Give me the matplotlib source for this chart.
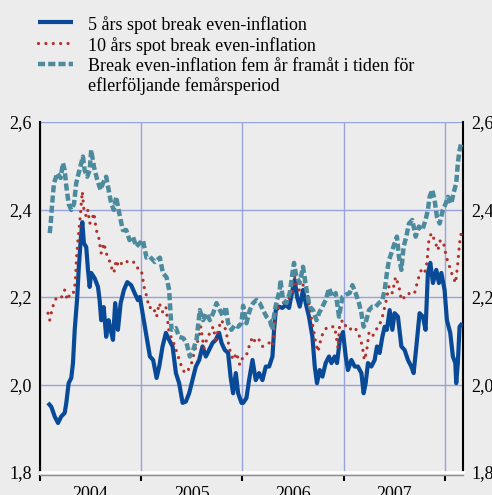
import numpy as np
import matplotlib.pyplot as plt
from matplotlib.lines import Line2D

# ---- data (decimal year, percent) ----
spot5_t = [2004.079, 2004.112, 2004.145, 2004.178, 2004.210, 2004.244, 2004.260, 2004.283, 2004.309, 2004.326,
           2004.343, 2004.368, 2004.382, 2004.402, 2004.418, 2004.434, 2004.457, 2004.474, 2004.491, 2004.506,
           2004.540, 2004.573, 2004.589, 2004.605, 2004.629, 2004.654, 2004.678, 2004.698, 2004.721, 2004.743,
           2004.770, 2004.797, 2004.829, 2004.862, 2004.901, 2004.935, 2004.967, 2004.987, 2005.020, 2005.053,
           2005.086, 2005.118, 2005.152, 2005.178, 2005.211, 2005.244, 2005.276, 2005.310, 2005.343, 2005.375,
           2005.409, 2005.441, 2005.474, 2005.507, 2005.540, 2005.573, 2005.606, 2005.639, 2005.671, 2005.705,
           2005.737, 2005.770, 2005.794, 2005.826, 2005.859, 2005.883, 2005.908, 2005.935, 2005.958, 2005.991,
           2006.007, 2006.040, 2006.066, 2006.100, 2006.132, 2006.165, 2006.198, 2006.231, 2006.264, 2006.297,
           2006.313, 2006.330, 2006.362, 2006.396, 2006.428, 2006.461, 2006.495, 2006.517, 2006.540, 2006.567,
           2006.599, 2006.626, 2006.658, 2006.692, 2006.715, 2006.737, 2006.764, 2006.791, 2006.823, 2006.856,
           2006.880, 2006.912, 2006.935, 2006.962, 2006.994, 2007.021, 2007.043, 2007.077, 2007.110, 2007.142,
           2007.176, 2007.198, 2007.218, 2007.241, 2007.274, 2007.307, 2007.330, 2007.356, 2007.383, 2007.406,
           2007.428, 2007.455, 2007.482, 2007.504, 2007.537, 2007.571, 2007.603, 2007.636, 2007.669, 2007.692,
           2007.719, 2007.751, 2007.784, 2007.810, 2007.833, 2007.857, 2007.883, 2007.916, 2007.942, 2007.966,
           2007.998, 2008.021, 2008.054, 2008.080, 2008.104, 2008.113, 2008.129, 2008.146, 2008.173]
spot5_v = [1.958, 1.949, 1.927, 1.912, 1.927, 1.935, 1.958, 2.003, 2.015, 2.049,
           2.125, 2.200, 2.262, 2.330, 2.371, 2.323, 2.314, 2.262, 2.223, 2.255,
           2.243, 2.223, 2.193, 2.147, 2.177, 2.109, 2.147, 2.125, 2.102, 2.186,
           2.125, 2.186, 2.216, 2.234, 2.227, 2.209, 2.193, 2.200, 2.155, 2.109,
           2.064, 2.056, 2.015, 2.041, 2.087, 2.118, 2.102, 2.087, 2.026, 2.003,
           1.958, 1.961, 1.980, 2.010, 2.041, 2.056, 2.087, 2.064, 2.079, 2.095,
           2.102, 2.118, 2.095, 2.079, 2.072, 2.018, 1.980, 2.026, 1.980, 1.958,
           1.958, 1.969, 2.010, 2.056, 2.010, 2.026, 2.010, 2.041, 2.041, 2.064,
           2.125, 2.170, 2.178, 2.175, 2.182, 2.175, 2.216, 2.239, 2.200, 2.178,
           2.216, 2.186, 2.155, 2.109, 2.041, 2.003, 2.033, 2.018, 2.049, 2.064,
           2.049, 2.064, 2.049, 2.100, 2.120, 2.064, 2.033, 2.056, 2.041, 2.041,
           2.026, 1.980, 2.003, 2.049, 2.041, 2.056, 2.087, 2.072, 2.109, 2.132,
           2.125, 2.170, 2.125, 2.163, 2.155, 2.087, 2.079, 2.056, 2.041, 2.026,
           2.087, 2.163, 2.155, 2.125, 2.255, 2.278, 2.232, 2.262, 2.232, 2.255,
           2.216, 2.147, 2.118, 2.064, 2.049, 2.003, 2.049, 2.132, 2.140]

spot10_t = [2004.079, 2004.096, 2004.118, 2004.145, 2004.178, 2004.210, 2004.244, 2004.270, 2004.293, 2004.326,
            2004.348, 2004.362, 2004.375, 2004.392, 2004.408, 2004.418, 2004.434, 2004.457, 2004.474, 2004.491,
            2004.513, 2004.533, 2004.556, 2004.579, 2004.605, 2004.632, 2004.654, 2004.678, 2004.704, 2004.730,
            2004.753, 2004.777, 2004.809, 2004.842, 2004.876, 2004.908, 2004.941, 2004.974, 2005.002, 2005.020,
            2005.034, 2005.046, 2005.079, 2005.118, 2005.152, 2005.178, 2005.211, 2005.244, 2005.276, 2005.310,
            2005.333, 2005.365, 2005.399, 2005.431, 2005.464, 2005.498, 2005.530, 2005.563, 2005.589, 2005.619,
            2005.646, 2005.678, 2005.711, 2005.737, 2005.770, 2005.794, 2005.826, 2005.849, 2005.876, 2005.908,
            2005.942, 2005.974, 2006.007, 2006.040, 2006.066, 2006.100, 2006.132, 2006.165, 2006.198, 2006.231,
            2006.264, 2006.297, 2006.317, 2006.330, 2006.362, 2006.396, 2006.428, 2006.461, 2006.495, 2006.517,
            2006.550, 2006.583, 2006.616, 2006.649, 2006.672, 2006.698, 2006.725, 2006.747, 2006.781, 2006.813,
            2006.846, 2006.879, 2006.912, 2006.945, 2006.962, 2006.994, 2007.028, 2007.060, 2007.093, 2007.126,
            2007.159, 2007.186, 2007.205, 2007.225, 2007.251, 2007.284, 2007.317, 2007.349, 2007.383, 2007.416,
            2007.448, 2007.482, 2007.514, 2007.547, 2007.571, 2007.603, 2007.636, 2007.669, 2007.702, 2007.734,
            2007.768, 2007.801, 2007.823, 2007.843, 2007.867, 2007.899, 2007.932, 2007.956, 2007.988, 2008.015,
            2008.047, 2008.074, 2008.107, 2008.129, 2008.146, 2008.163]
spot10_v = [2.163, 2.147, 2.170, 2.193, 2.200, 2.198, 2.216, 2.193, 2.205, 2.205,
            2.232, 2.292, 2.330, 2.368, 2.413, 2.441, 2.399, 2.384, 2.399, 2.368,
            2.376, 2.392, 2.353, 2.338, 2.300, 2.323, 2.300, 2.289, 2.269, 2.255,
            2.284, 2.269, 2.278, 2.284, 2.278, 2.281, 2.278, 2.262, 2.260, 2.235,
            2.216, 2.209, 2.175, 2.178, 2.155, 2.186, 2.166, 2.178, 2.118, 2.102,
            2.087, 2.064, 2.041, 2.026, 2.033, 2.049, 2.079, 2.102, 2.132, 2.083,
            2.102, 2.118, 2.132, 2.102, 2.132, 2.147, 2.132, 2.109, 2.079, 2.056,
            2.072, 2.045, 2.064, 2.067, 2.087, 2.109, 2.095, 2.102, 2.087, 2.090,
            2.095, 2.087, 2.125, 2.163, 2.178, 2.186, 2.189, 2.198, 2.212, 2.246,
            2.216, 2.216, 2.239, 2.200, 2.163, 2.132, 2.095, 2.075, 2.109, 2.125,
            2.132, 2.132, 2.132, 2.083, 2.140, 2.147, 2.130, 2.125, 2.132, 2.125,
            2.109, 2.087, 2.056, 2.072, 2.118, 2.109, 2.125, 2.132, 2.155, 2.186,
            2.224, 2.209, 2.246, 2.224, 2.193, 2.200, 2.209, 2.205, 2.209, 2.239,
            2.262, 2.255, 2.278, 2.330, 2.346, 2.330, 2.307, 2.330, 2.323, 2.292,
            2.269, 2.250, 2.232, 2.278, 2.323, 2.346]

fwd_t = [2004.096, 2004.106, 2004.118, 2004.138, 2004.171, 2004.204, 2004.227, 2004.244, 2004.260, 2004.283,
         2004.309, 2004.336, 2004.358, 2004.382, 2004.408, 2004.424, 2004.441, 2004.467, 2004.491, 2004.506,
         2004.533, 2004.566, 2004.599, 2004.622, 2004.654, 2004.678, 2004.704, 2004.730, 2004.753, 2004.770,
         2004.797, 2004.819, 2004.852, 2004.885, 2004.918, 2004.951, 2004.984, 2005.017, 2005.052, 2005.086,
         2005.135, 2005.185, 2005.214, 2005.251, 2005.276, 2005.288, 2005.300, 2005.343, 2005.375, 2005.415,
         2005.448, 2005.481, 2005.513, 2005.547, 2005.579, 2005.612, 2005.646, 2005.678, 2005.711, 2005.744,
         2005.777, 2005.809, 2005.836, 2005.859, 2005.892, 2005.925, 2005.958, 2005.991, 2006.007, 2006.040,
         2006.073, 2006.106, 2006.139, 2006.172, 2006.204, 2006.238, 2006.271, 2006.297, 2006.320, 2006.343,
         2006.369, 2006.376, 2006.402, 2006.435, 2006.468, 2006.495, 2006.510, 2006.534, 2006.567, 2006.599,
         2006.619, 2006.639, 2006.665, 2006.698, 2006.732, 2006.757, 2006.791, 2006.823, 2006.856, 2006.889,
         2006.922, 2006.955, 2006.988, 2007.021, 2007.060, 2007.087, 2007.119, 2007.152, 2007.176, 2007.198,
         2007.225, 2007.251, 2007.284, 2007.317, 2007.349, 2007.383, 2007.406, 2007.428, 2007.448, 2007.472,
         2007.504, 2007.527, 2007.547, 2007.571, 2007.593, 2007.620, 2007.646, 2007.679, 2007.712, 2007.744,
         2007.778, 2007.810, 2007.833, 2007.850, 2007.876, 2007.899, 2007.922, 2007.949, 2007.981, 2008.008,
         2008.031, 2008.064, 2008.087, 2008.113, 2008.129, 2008.146, 2008.163]
fwd_v = [2.346, 2.368, 2.407, 2.460, 2.483, 2.472, 2.506, 2.490, 2.453, 2.413,
         2.399, 2.413, 2.460, 2.483, 2.506, 2.521, 2.490, 2.475, 2.490, 2.536,
         2.498, 2.467, 2.445, 2.460, 2.475, 2.445, 2.413, 2.399, 2.429, 2.407,
         2.376, 2.353, 2.353, 2.330, 2.338, 2.315, 2.323, 2.330, 2.290, 2.292,
         2.280, 2.290, 2.255, 2.245, 2.216, 2.170, 2.125, 2.129, 2.109, 2.106,
         2.095, 2.064, 2.079, 2.102, 2.170, 2.147, 2.163, 2.147, 2.163, 2.186,
         2.170, 2.155, 2.178, 2.140, 2.125, 2.136, 2.132, 2.140, 2.180, 2.140,
         2.170, 2.186, 2.193, 2.186, 2.170, 2.155, 2.147, 2.125, 2.170, 2.193,
         2.216, 2.239, 2.193, 2.186, 2.209, 2.255, 2.278, 2.246, 2.232, 2.269,
         2.239, 2.209, 2.178, 2.170, 2.147, 2.163, 2.178, 2.193, 2.220, 2.200,
         2.209, 2.155, 2.200, 2.205, 2.209, 2.227, 2.209, 2.186, 2.163, 2.132,
         2.147, 2.170, 2.178, 2.178, 2.186, 2.193, 2.216, 2.255, 2.284, 2.300,
         2.323, 2.338, 2.292, 2.262, 2.315, 2.338, 2.368, 2.376, 2.338, 2.361,
         2.353, 2.376, 2.399, 2.429, 2.445, 2.422, 2.384, 2.368, 2.399, 2.413,
         2.429, 2.413, 2.438, 2.460, 2.506, 2.536, 2.552]

labels = ["5 års spot break even-inflation",
          "10 års spot break even-inflation",
          "Break even-inflation fem år framåt i tiden för\neflerföljande femårsperiod"]
year_labels = ["2004", "2005", "2006", "2007"]
y_ticks = [1.8, 2.0, 2.2, 2.4, 2.6]

# ---- style ----
BG = "#ececec"
BLUE = "#084a98"
RED = "#b0302a"
TEAL = "#4b8b9d"
GRID = "#98a3dc"
FONT = "Liberation Serif"
FS = 13

plt.rcParams["font.family"] = FONT

W, H = 492, 495
fig = plt.figure(figsize=(W / 100, H / 100), dpi=100, facecolor=BG)
ax = fig.add_axes([40 / W, 1 - 472 / H, (463 - 40) / W, (472 - 122) / H])
ax.set_facecolor(BG)

styles = [
    dict(color=BLUE, lw=3.0, solid_joinstyle="round", solid_capstyle="butt"),
    dict(color=RED, lw=2.3, linestyle=(0, (0.01, 2.3)), dash_capstyle="round"),
    dict(color=TEAL, lw=3.2, linestyle=(0, (1.6, 0.7)), dash_capstyle="butt"),
]

ax.plot(spot5_t, spot5_v, zorder=3, **styles[0])
ax.plot(spot10_t, spot10_v, zorder=4, **styles[1])
ax.plot(fwd_t, fwd_v, zorder=5, **styles[2])

ax.set_xlim(2004.0, 2008.18)
ax.set_ylim(1.8, 2.6)

ax.set_yticks(y_ticks)
ax.set_yticklabels([f"{v:.1f}".replace(".", ",") for v in y_ticks])
ax.tick_params(axis="y", length=0, labelsize=FS, pad=6, labelright=True)

ax.set_xticks([2004, 2005, 2006, 2007, 2008])
ax.set_xticklabels([])
ax.set_xticks([y + 0.5 for y in range(2004, 2008)], minor=True)
ax.set_xticklabels(year_labels, minor=True)
ax.tick_params(axis="x", which="major", direction="out", length=4, width=1.5, color="black")
ax.tick_params(axis="x", which="minor", length=0, labelsize=FS, pad=8)

ax.grid(True, which="major", color=GRID, lw=1.0, zorder=1)
ax.set_axisbelow(True)

ax.spines["top"].set_visible(False)
ax.spines["left"].set_color("black")
ax.spines["left"].set_linewidth(1.5)
ax.spines["right"].set_color("black")
ax.spines["right"].set_linewidth(1.5)
# bottom axis: white band over a thin grey rule
ax.spines["bottom"].set_color("#8c8c8c")
ax.spines["bottom"].set_linewidth(1.0)
ax.spines["bottom"].set_position(("outward", 2))
ax.axhline(1.8, color="white", lw=2, clip_on=False, zorder=6)

# ---- legend drawn by hand so the 2-line label's key sits on its first line ----
rows_y = [22, 43, 64]
for (style, lab, yp) in zip(styles, labels, rows_y):
    fy = 1 - yp / H
    fig.add_artist(Line2D([38 / W, 73 / W], [fy, fy], transform=fig.transFigure, **style))
    fig.text(88 / W, fy + 0.5 * FS / 72 * 100 / H * 0.7, lab, transform=fig.transFigure,
             fontsize=FS, va="top", ha="left", linespacing=1.2)

fig.savefig("out.png", dpi=100, facecolor=BG)
